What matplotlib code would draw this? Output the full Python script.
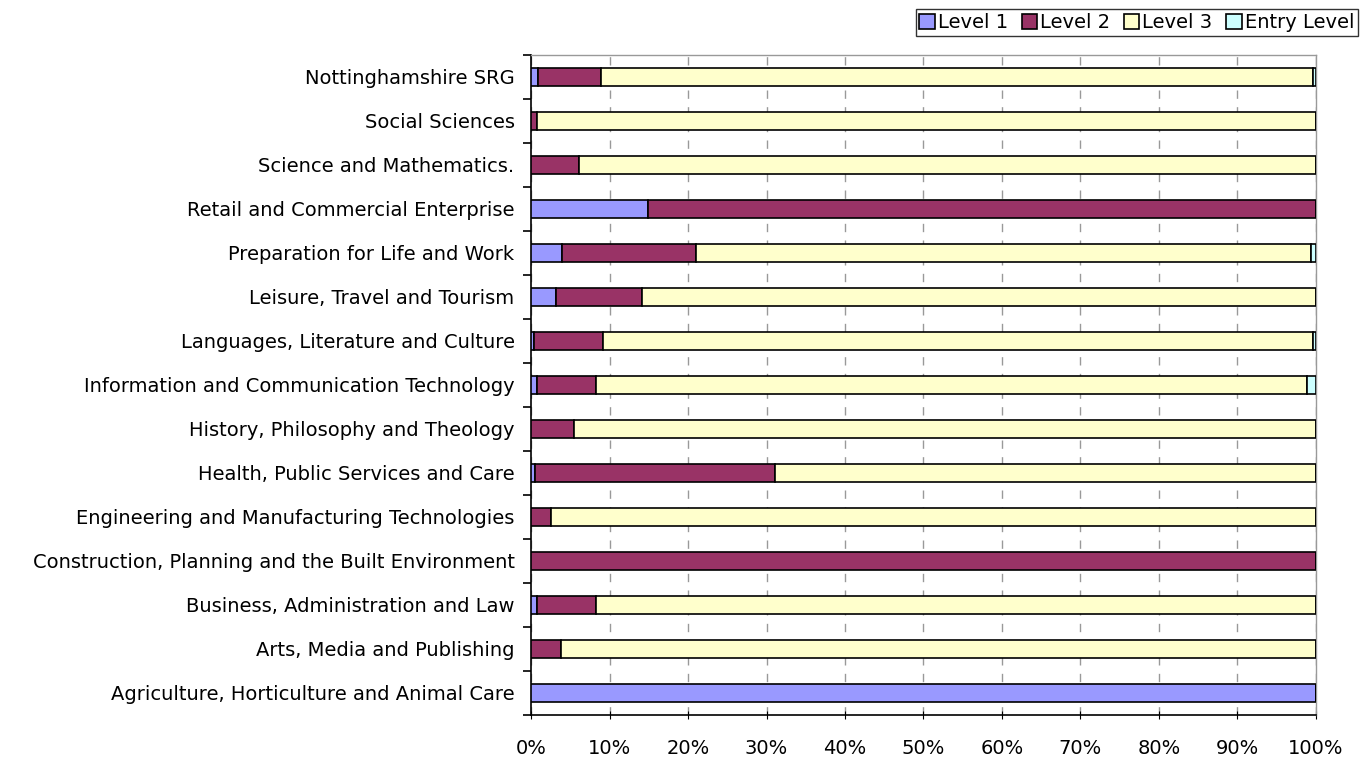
import numpy as np
import matplotlib.pyplot as plt
from matplotlib.ticker import PercentFormatter

# categories listed bottom to top
categories = [
    "Agriculture, Horticulture and Animal Care",
    "Arts, Media and Publishing",
    "Business, Administration and Law",
    "Construction, Planning and the Built Environment",
    "Engineering and Manufacturing Technologies",
    "Health, Public Services and Care",
    "History, Philosophy and Theology",
    "Information and Communication Technology",
    "Languages, Literature and Culture",
    "Leisure, Travel and Tourism",
    "Preparation for Life and Work",
    "Retail and Commercial Enterprise",
    "Science and Mathematics.",
    "Social Sciences",
    "Nottinghamshire SRG",
]
level1 = [100.0, 0.0, 0.8, 0.0, 0.0, 0.5, 0.0, 0.8, 0.3, 3.2, 3.9, 14.9, 0.0, 0.0, 0.9]
level2 = [0.0, 3.8, 7.4, 100.0, 2.5, 30.6, 5.4, 7.4, 8.9, 10.9, 17.1, 85.1, 6.1, 0.8, 8.0]
level3 = [0.0, 96.2, 91.8, 0.0, 97.5, 68.9, 94.6, 90.7, 90.4, 85.9, 78.4, 0.0, 93.9, 99.2, 90.8]
entry = [0.0, 0.0, 0.0, 0.0, 0.0, 0.0, 0.0, 1.1, 0.4, 0.0, 0.6, 0.0, 0.0, 0.0, 0.3]

series = [("Level 1", level1, "#9999FF"),
          ("Level 2", level2, "#993366"),
          ("Level 3", level3, "#FFFFCC"),
          ("Entry Level", entry, "#CCFFFF")]

plt.rcParams["font.family"] = ["DejaVu Sans"]

fig = plt.figure(figsize=(13.62, 7.57), dpi=100)
ax = fig.add_axes([0.390, 0.0555, 0.576, 0.872])

y = np.arange(len(categories))
left = np.zeros(len(categories))
for name, vals, col in series:
    vals = np.array(vals)
    ax.barh(y, vals, left=left, height=0.4, color=col, edgecolor="black",
            linewidth=1.2, label=name, zorder=3)
    left += vals

ax.set_xlim(0, 100)
ax.set_ylim(-0.5, len(categories) - 0.5)
ax.set_xticks(np.arange(0, 101, 10))
ax.xaxis.set_major_formatter(PercentFormatter(decimals=0))
ax.set_yticks(y)
ax.set_yticklabels(categories)
ax.set_yticks(np.arange(-0.5, len(categories)), minor=True)
ax.tick_params(axis="y", which="major", length=0, pad=12, labelsize=14)
ax.tick_params(axis="y", which="minor", length=6, width=1.2, direction="out")
ax.tick_params(axis="x", length=6, direction="inout", labelsize=14, pad=14)
ax.grid(axis="x", color="#999999", linestyle=(0, (6, 6)), linewidth=1, zorder=0)

for s in ("left", "bottom"):
    ax.spines[s].set_color("black")
    ax.spines[s].set_linewidth(1.2)
for s in ("top", "right"):
    ax.spines[s].set_color("#999999")
    ax.spines[s].set_linewidth(1)

fig.legend(loc="upper right", bbox_to_anchor=(0.997, 0.988), ncol=4,
           fontsize=14, frameon=True, fancybox=False, edgecolor="black",
           handlelength=0.8, handleheight=0.8, handletextpad=0.15,
           columnspacing=0.7, borderpad=0.2, borderaxespad=0)

fig.savefig("out.png", dpi=100)
